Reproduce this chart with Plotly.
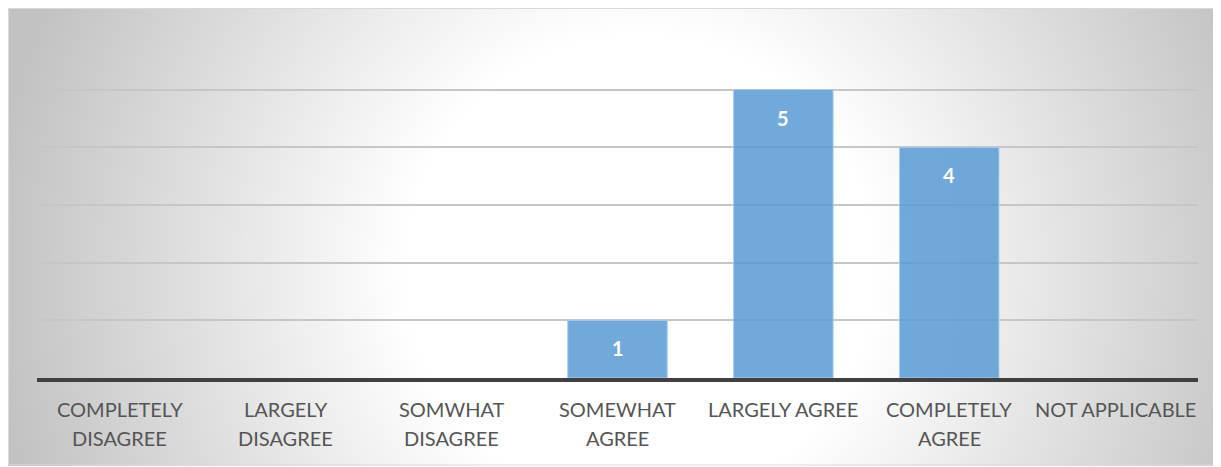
import base64
import plotly.graph_objects as go

categories = ["COMPLETELY DISAGREE", "LARGELY DISAGREE", "SOMWHAT DISAGREE",
              "SOMEWHAT AGREE", "LARGELY AGREE", "COMPLETELY AGREE", "NOT APPLICABLE"]
label_line1 = ["COMPLETELY", "LARGELY", "SOMWHAT", "SOMEWHAT", "LARGELY AGREE", "COMPLETELY", "NOT APPLICABLE"]
label_line2 = ["DISAGREE", "DISAGREE", "DISAGREE", "AGREE", "", "AGREE", ""]
values = [0, 0, 0, 1, 5, 4, 0]
y_ticks = [0, 1, 2, 3, 4, 5, 6]

OFF = 8  # page body margin
W, H = 1213, 458
L, T = 37 - OFF, 32 - OFF
R = W - (1198 - OFF)
B = H - (378 - OFF)
PW, PH = W - L - R, H - T - B

svg = f'''<svg xmlns="http://www.w3.org/2000/svg" width="{W}" height="{H}" viewBox="0 0 {W} {H}">
<defs><radialGradient id="g" gradientUnits="userSpaceOnUse" cx="{640 - OFF}" cy="{270 - OFF}" r="650">
<stop offset="0" stop-color="#ffffff"/><stop offset="0.36" stop-color="#ffffff"/>
<stop offset="1" stop-color="#c2c2c2"/></radialGradient></defs>
<rect x="0" y="0" width="{W}" height="{H}" fill="url(#g)"/></svg>'''
uri = "data:image/svg+xml;base64," + base64.b64encode(svg.encode()).decode()

fig = go.Figure()
fig.add_trace(go.Bar(
    x=categories, y=values, width=0.6,
    marker=dict(color="rgba(91,155,213,0.86)",
                line=dict(color="rgba(170,204,236,1)", width=[1 if v > 0 else 0 for v in values])),
    hoverinfo="skip",
))

def px_to_paper_x(px):  # page px
    return (px - OFF - L) / PW

def px_to_paper_y(py):  # page px
    return (H - B - (py - OFF)) / PH

annotations = []
for c, v in zip(categories, values):
    if v > 0:
        annotations.append(dict(x=c, y=v, xref="x", yref="y", text=f"<b>{v}</b>", showarrow=False,
                                yshift=-28, font=dict(family="Lato", size=20, color="white")))
for c, l1, l2 in zip(categories, label_line1, label_line2):
    annotations.append(dict(x=c, y=0, xref="x", yref="paper", text=l1, showarrow=False,
                            yshift=-31, yanchor="middle",
                            font=dict(family="Lato", size=20, color="#555555")))
    if l2:
        annotations.append(dict(x=c, y=0, xref="x", yref="paper", text=l2, showarrow=False,
                                yshift=-60, yanchor="middle",
                                font=dict(family="Lato", size=20, color="#555555")))

fig.update_layout(
    width=W, height=H,
    margin=dict(l=L, r=R, t=T, b=B),
    paper_bgcolor="white",
    plot_bgcolor="rgba(0,0,0,0)",
    showlegend=False,
    bargap=0.4,
    images=[dict(source=uri, xref="paper", yref="paper",
                 x=px_to_paper_x(OFF), y=px_to_paper_y(OFF),
                 sizex=W / PW, sizey=H / PH, xanchor="left", yanchor="top",
                 sizing="stretch", layer="below")],
    shapes=[dict(type="rect", xref="paper", yref="paper",
                 x0=px_to_paper_x(8.5), x1=px_to_paper_x(1216),
                 y0=px_to_paper_y(465), y1=px_to_paper_y(8.5),
                 line=dict(color="#d9d9d9", width=1), fillcolor="rgba(0,0,0,0)", layer="below")],
    annotations=annotations,
    xaxis=dict(showticklabels=False, showline=True, linecolor="#404040", linewidth=4,
               showgrid=False, ticks="", fixedrange=True),
    yaxis=dict(range=[0, 6], tickvals=y_ticks, showticklabels=False, showgrid=True,
               gridcolor="#c6c6c6", gridwidth=1.5, zeroline=False, showline=False, ticks=""),
)

fig.write_html("out.html", config={"displayModeBar": False})
